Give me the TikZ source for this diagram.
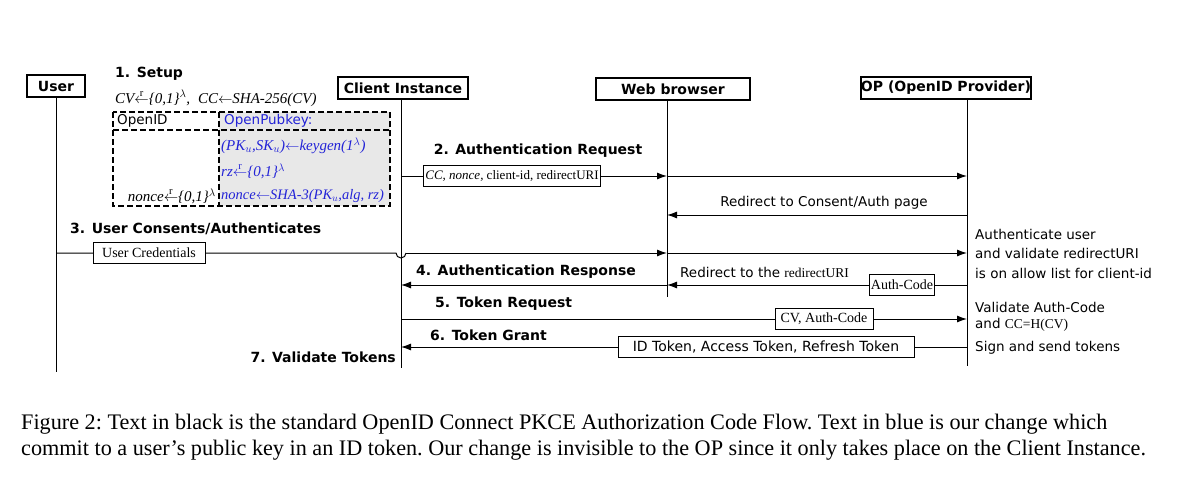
\documentclass[tikz,border=0pt]{standalone}
\usepackage{amsmath}
\usepackage{fontspec}
\setmainfont{Liberation Serif}
\newfontfamily\dvs{DejaVu Sans}
\usetikzlibrary{arrows.meta}
\definecolor{opb}{RGB}{35,35,215}
\newcommand{\rarr}{\mathrel{\overset{\raisebox{-3pt}{$\scriptstyle\mathrm{r}$}}{\leftarrow}}}
\begin{document}
\begin{tikzpicture}[x=1pt,y=-1pt,
  actor/.style={draw,line width=1.8pt,font=\dvs\bfseries\fontsize{14}{16}\selectfont,inner sep=0pt,minimum height=22pt},
  life/.style={line width=1pt},
  msg/.style={line width=1pt,-{Latex[length=10pt,width=7pt]}},
  lbl/.style={draw,fill=white,line width=0.8pt,inner sep=2pt,minimum height=21pt,font=\fontsize{14}{16}\selectfont},
  ttl/.style={font=\dvs\bfseries\fontsize{14}{16}\selectfont,inner sep=0pt},
  txt/.style={font=\dvs\fontsize{13.5}{16}\selectfont,inner sep=0pt},
  mth/.style={font=\itshape\fontsize{15}{17}\selectfont,inner sep=0pt}]
\useasboundingbox (0,0) rectangle (1200,490);
% actors
\node[actor,minimum width=58pt] (user) at (56,86) {User};
\node[actor,minimum width=130pt] (ci) at (403,88) {Client Instance};
\node[actor,minimum width=154pt] (wb) at (673,89) {Web browser};
\node[actor,minimum width=168pt] (op) at (946,88) {OP (OpenID Provider)};
\coordinate (uB) at (56,372); \coordinate (cB) at (401,368);
\coordinate (wB) at (667,297); \coordinate (oB) at (967,366);
\draw[life] (user.south) -- (uB);
\draw[life] (ci.south-|cB) -- (cB);
\draw[life] (wb.south-|wB) -- (wB);
\draw[life] (op.south-|oB) -- (oB);
% setup
\node[ttl,anchor=west] (s1) at (115,74) {1. Setup};
\node[mth,anchor=west] (s1f) at (115,98) {CV$\rarr$\{0,1\}$^{\lambda}$,\; CC$\leftarrow$SHA-256(CV)};
\fill[gray!18] (219,112) rectangle (390,206);
\draw[dashed,line width=1.3pt,dash pattern=on 6pt off 3pt] (113,112) rectangle (390,206) (219,112) -- (219,206) (113,130) -- (390,130);
\node[txt,anchor=west] (oid) at (117,121) {OpenID};
\node[txt,anchor=west,text=opb] (opk) at (224,121) {OpenPubkey:};
\node[mth,anchor=west,text=opb] (k1) at (221,146) {(PK$_u$,SK$_u$)$\leftarrow$keygen(1$^{\lambda}$)};
\node[mth,anchor=west,text=opb] (k2) at (221,171) {rz$\rarr$\{0,1\}$^{\lambda}$};
\node[mth,anchor=west,text=opb,font=\itshape\fontsize{14.5}{17}\selectfont] (k3) at (221,196) {nonce$\leftarrow$SHA-3(PK$_u$,alg, rz)};
\node[mth,anchor=east] (n1) at (216,196) {nonce$\rarr$\{0,1\}$^{\lambda}$};
% step 2
\coordinate (c2) at (401,176); \coordinate (w2) at (667,176); \coordinate (o2) at (967,176);
\node[ttl] (t2) at (538,151) {2. Authentication Request};
\draw[msg] (c2) -- (w2);
\draw[msg] (w2) -- (o2);
\node[lbl,font=\fontsize{13}{15}\selectfont] (l2) at (512,176) {\textit{CC, nonce,} client-id, redirectURI};
% redirect consent
\coordinate (o3) at (967,215); \coordinate (w3) at (667,215);
\draw[msg] (o3) -- (w3);
\node[txt] (t3r) at (824,203) {Redirect to Consent/Auth page};
% step 3
\node[ttl,anchor=west] (t3) at (70,229) {3. User Consents/Authenticates};
\coordinate (u3) at (56,253); \coordinate (w4) at (667,253); \coordinate (o4) at (967,253);
\draw[line width=1pt] (u3) -- (396,253) arc[start angle=180,end angle=0,radius=5];
\draw[msg] (406,253) -- (w4);
\draw[msg] (w4) -- (o4);
\node[lbl,minimum width=112pt] (l3) at (149,253) {User Credentials};
\node[txt,anchor=north west,align=left,font=\dvs\fontsize{13.5}{19.5}\selectfont] (auth) at (975,229) {Authenticate user\\and validate redirectURI\\is on allow list for client-id};
% step 4
\coordinate (o5) at (967,285); \coordinate (w5) at (667,285); \coordinate (c5) at (401,285);
\draw[msg] (o5) -- (w5);
\draw[msg] (w5) -- (c5);
\node[ttl] (t4) at (526,272) {4. Authentication Response};
\node[txt,anchor=west] (t4r) at (680,272) {Redirect to the {\rmfamily redirectURI}};
\node[lbl,inner sep=1.5pt] (l4) at (902,285) {Auth-Code};
% step 5
\coordinate (c6) at (401,319); \coordinate (o6) at (967,319);
\draw[msg] (c6) -- (o6);
\node[ttl,anchor=west] (t5) at (435,304) {5. Token Request};
\node[lbl,minimum width=98pt] (l5) at (824,319) {CV, Auth-Code};
\node[txt,anchor=west] (v5) at (975,307) {Validate Auth-Code};
\node[txt,anchor=west] (v5b) at (975,325) {and {\rmfamily CC=H(CV)}};
% step 6
\coordinate (o7) at (967,347); \coordinate (c7) at (401,347);
\draw[msg] (o7) -- (c7);
\node[ttl,anchor=west] (t6) at (430,335) {6. Token Grant};
\node[lbl,font=\dvs\fontsize{14}{16}\selectfont,minimum width=296pt] (l6) at (766,347) {ID Token, Access Token, Refresh Token};
\node[txt,anchor=west] (v6) at (975,348) {Sign and send tokens};
\node[ttl,anchor=east] (t7) at (396,357) {7. Validate Tokens};
% caption
\node[anchor=north west,inner sep=0pt,align=left,font=\frenchspacing\fontsize{22.2}{26}\selectfont] (cap) at (21,414) {Figure 2: Text in black is the standard OpenID Connect PKCE Authorization Code Flow. Text in blue is our change which\\commit to a user's public key in an ID token. Our change is invisible to the OP since it only takes place on the Client Instance.};
\end{tikzpicture}
\end{document}
